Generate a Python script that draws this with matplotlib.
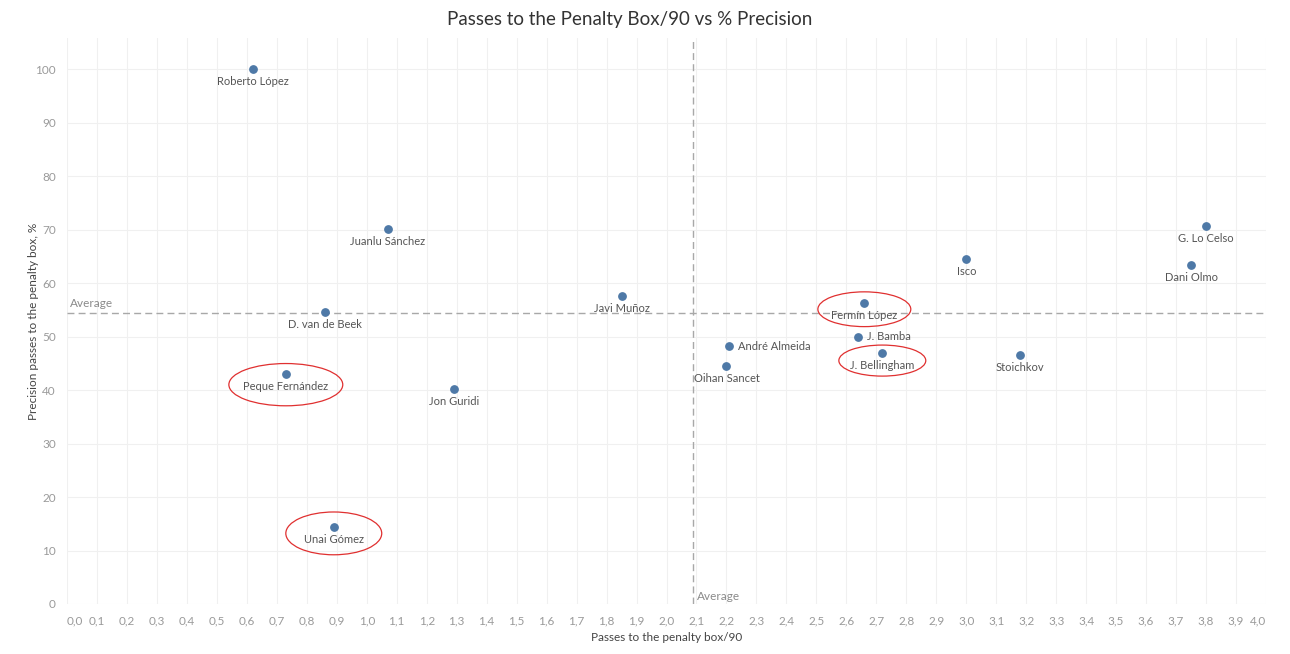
import matplotlib
matplotlib.use("Agg")
import matplotlib.pyplot as plt
from matplotlib.patches import Ellipse

players = [
    "Roberto López", "Juanlu Sánchez", "D. van de Beek", "Peque Fernández",
    "Unai Gómez", "Jon Guridi", "Javi Muñoz", "Fermín López", "J. Bamba",
    "J. Bellingham", "André Almeida", "Oihan Sancet", "Isco", "G. Lo Celso",
    "Dani Olmo", "Stoichkov",
]
passes_90 = [0.62, 1.07, 0.86, 0.73, 0.89, 1.29, 1.85, 2.66, 2.64,
             2.72, 2.21, 2.20, 3.00, 3.80, 3.75, 3.18]
precision = [100.0, 70.1, 54.6, 42.9, 14.3, 40.2, 57.6, 56.3, 50.0,
             47.0, 48.2, 44.5, 64.4, 70.6, 63.4, 46.5]
right_labels = ["J. Bamba", "André Almeida"]

# red circles drawn by hand around some players: (width, height, drop) in data units
highlighted = {
    "Peque Fernández": (0.38, 7.9, 1.9),
    "Unai Gómez": (0.32, 8.0, 1.1),
    "Fermín López": (0.31, 6.5, 1.2),
    "J. Bellingham": (0.29, 5.8, 1.5),
}

avg_x = 2.09
avg_y = 54.4

x_ticks = [round(i * 0.1, 1) for i in range(41)]
y_ticks = list(range(0, 101, 10))

plt.rcParams['font.family'] = ['Lato', 'DejaVu Sans']

fig = plt.figure(figsize=(12.9, 6.54), dpi=100)
ax = fig.add_axes([67 / 1290, 1 - 604 / 654, 1199 / 1290, 566 / 654])

ax.set_xlim(0, 4.0)
ax.set_ylim(0, 105.8)
ax.set_xticks(x_ticks)
ax.set_xticklabels([f"{t:.1f}".replace(".", ",") for t in x_ticks])
ax.set_yticks(y_ticks)
ax.grid(True, color="#f0f0f0", linewidth=0.8)
ax.set_axisbelow(True)
for s in ax.spines.values():
    s.set_visible(False)
ax.tick_params(length=0, colors="#9a9a9a", labelsize=8.5, pad=8)
xl = ax.get_xticklabels()
xl[0].set_horizontalalignment("left")
xl[-1].set_horizontalalignment("right")

ax.axhline(avg_y, color="#a8a8a8", linestyle=(0, (5, 3)), linewidth=1.0)
ax.axvline(avg_x, color="#a8a8a8", linestyle=(0, (5, 3)), linewidth=1.0)
ax.text(0.01, avg_y + 0.8, "Average", color="#8a8a8a", fontsize=8.5,
        ha="left", va="bottom")
ax.text(avg_x + 0.01, 0.3, "Average", color="#8a8a8a", fontsize=8.5,
        ha="left", va="bottom")

ax.scatter(passes_90, precision, s=28, color="#4e79a7", zorder=3)

for name, x, y in zip(players, passes_90, precision):
    if name in right_labels:
        ax.annotate(name, (x, y), xytext=(6, 0), textcoords="offset points",
                    ha="left", va="center", fontsize=8, color="#555555")
    else:
        ax.annotate(name, (x, y), xytext=(0, -5), textcoords="offset points",
                    ha="center", va="top", fontsize=8, color="#555555")
    if name in highlighted:
        w, h, drop = highlighted[name]
        ax.add_patch(Ellipse((x, y - drop), w, h, fill=False,
                             edgecolor="#e03030", linewidth=0.9, zorder=4))

ax.set_xlabel("Passes to the penalty box/90", fontsize=8.5, color="#444444",
              labelpad=4)
ax.set_ylabel("Precision passes to the penalty box, %", fontsize=8.5,
              color="#444444", labelpad=6)
ax.yaxis.set_label_coords(-28 / 1199, 0.5)
fig.suptitle("Passes to the Penalty Box/90 vs % Precision", x=630 / 1290,
             y=1 - 11 / 654, va="top", fontsize=13.5, color="#333333")

fig.savefig("out.png", dpi=100)
